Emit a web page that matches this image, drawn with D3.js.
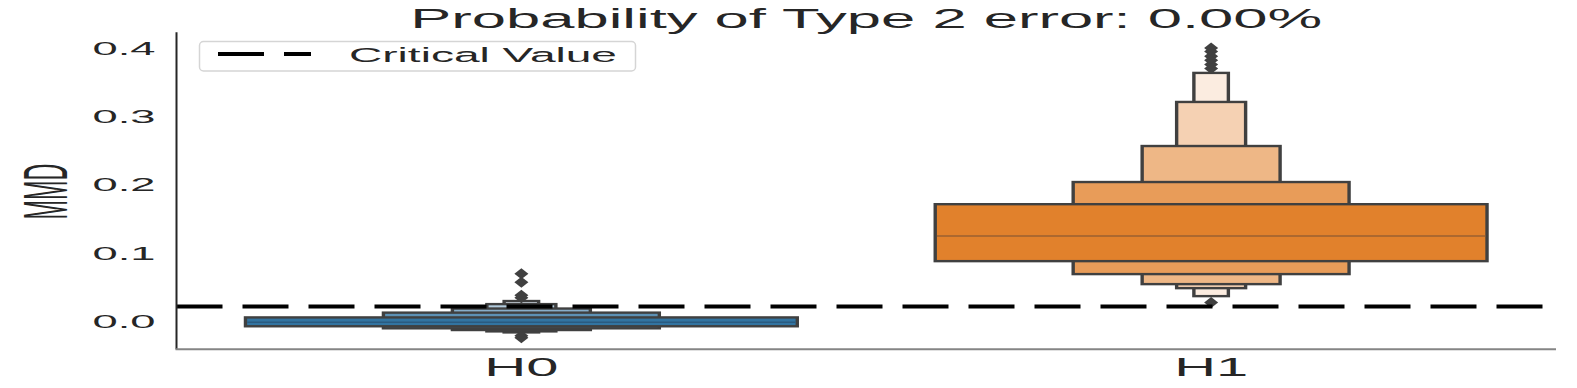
<!DOCTYPE html>
<html>
<head>
<meta charset="utf-8">
<script src="https://cdn.jsdelivr.net/npm/d3@7"></script>
<style>
  html, body { margin: 0; padding: 0; background: #ffffff; }
  svg { display: block; }
  text { font-family: "Liberation Sans", Arial, sans-serif; fill: #262626; }
</style>
</head>
<body>
<svg id="chart" width="1577" height="388"></svg>
<script>
// ---------------- data ----------------
const categories = ["H0", "H1"];
const yTickValues = [0, 0.1, 0.2, 0.3, 0.4];
const titleText = "Probability of Type 2 error: 0.00%";
const yLabel = "MMD";
const legendLabel = "Critical Value";
const criticalValue = 0.022;

// letter values: level 1 = quartiles, then octiles, ... (lower / upper bounds)
const h0Lower = [-0.007, -0.010, -0.0125, -0.0145, -0.016];
const h0Upper = [0.006, 0.013, 0.019, 0.0255, 0.030];
const h0Median = -0.001;
const h0Outliers = [0.070, 0.0574, 0.0384, 0.035, -0.021, -0.024];

const h1Lower = [0.0885, 0.0695, 0.0548, 0.0489, 0.0372];
const h1Upper = [0.172, 0.2045, 0.2573, 0.3219, 0.3645];
const h1Median = 0.1253;
const h1Outliers = [0.401, 0.396, 0.389, 0.383, 0.377, 0.371, 0.0277];

const groups = [
  { name: "H0", lower: h0Lower, upper: h0Upper, median: h0Median, outliers: h0Outliers,
    color: "#3274a1", light: "#dde8f1", medianColor: "#2a5b80" },
  { name: "H1", lower: h1Lower, upper: h1Upper, median: h1Median, outliers: h1Outliers,
    color: "#e1812c", light: "#fbece0", medianColor: "#9a6030" }
];

// ---------------- layout ----------------
const svg = d3.select("#chart");
const plotLeft = 176.5, plotRight = 1556, plotTop = 32.3, plotBottom = 349.3;

const x = d3.scaleBand().domain(categories).range([plotLeft, plotRight]).padding(0);
const y = d3.scaleLinear()
  .domain([(321.5 - plotBottom) / 682, (321.5 - plotTop) / 682])
  .range([plotBottom, plotTop]);

const edge = "#404040";

// ---------------- boxen ----------------
const boxG = svg.append("g");
groups.forEach(g => {
  const cx = x(g.name) + x.bandwidth() / 2;
  const n = g.lower.length;
  const interp = d3.interpolateRgb(g.color, g.light);
  for (let i = n - 1; i >= 0; i--) {
    const w = x.bandwidth() * 0.8 / Math.pow(2, i);
    const x0 = cx - w / 2;
    const yt = y(g.upper[i]), yb = y(g.lower[i]);
    const hx = 1.7, hy = 1.2;
    boxG.append("rect")
      .attr("x", x0 - hx).attr("y", yt - hy)
      .attr("width", w + 2 * hx).attr("height", yb - yt + 2 * hy)
      .attr("fill", edge);
    boxG.append("rect")
      .attr("x", x0 + hx).attr("y", yt + hy)
      .attr("width", Math.max(0, w - 2 * hx)).attr("height", Math.max(0, yb - yt - 2 * hy))
      .attr("fill", interp(i / (n - 1)));
  }
  const w0 = x.bandwidth() * 0.8;
  boxG.append("line")
    .attr("x1", cx - w0 / 2 + 1.7).attr("x2", cx + w0 / 2 - 1.7)
    .attr("y1", y(g.median)).attr("y2", y(g.median))
    .attr("stroke", g.medianColor).attr("stroke-width", 1.6);
  boxG.selectAll(null).data(g.outliers).enter().append("path")
    .attr("d", d => {
      const py = y(d), hw = 7, hh = 5.5;
      return `M${cx},${py - hh}L${cx + hw},${py}L${cx},${py + hh}L${cx - hw},${py}Z`;
    })
    .attr("fill", edge);
});

// ---------------- critical value ----------------
svg.append("line")
  .attr("x1", plotLeft).attr("x2", plotRight)
  .attr("y1", y(criticalValue)).attr("y2", y(criticalValue))
  .attr("stroke", "#000").attr("stroke-width", 4)
  .attr("stroke-dasharray", "46,20");

// ---------------- axes ----------------
const yAxis = svg.append("g")
  .attr("transform", `translate(${plotLeft},0)`)
  .call(d3.axisLeft(y).tickValues(yTickValues).tickFormat(d3.format(".1f")).tickSize(0).tickPadding(21));
yAxis.select(".domain").remove();
yAxis.selectAll("text")
  .attr("font-size", 18)
  .attr("font-family", "Liberation Sans, Arial, sans-serif")
  .attr("fill", "#262626")
  .attr("textLength", 63).attr("lengthAdjust", "spacingAndGlyphs");

svg.append("line")
  .attr("x1", plotLeft).attr("x2", plotLeft).attr("y1", plotTop).attr("y2", plotBottom)
  .attr("stroke", "#262626").attr("stroke-width", 2);
svg.append("line")
  .attr("x1", plotLeft - 1).attr("x2", plotRight).attr("y1", plotBottom).attr("y2", plotBottom)
  .attr("stroke", "#858585").attr("stroke-width", 2);

const xAxis = svg.append("g")
  .attr("transform", `translate(0,${plotBottom})`)
  .call(d3.axisBottom(x).tickSize(0).tickPadding(8));
xAxis.select(".domain").remove();
xAxis.selectAll("text")
  .attr("font-size", 25)
  .attr("font-family", "Liberation Sans, Arial, sans-serif")
  .attr("fill", "#262626")
  .attr("dy", "0")
  .attr("y", 27)
  .attr("textLength", 74).attr("lengthAdjust", "spacingAndGlyphs");

svg.append("text")
  .attr("transform", "translate(44.5,191.5) scale(2.6,1) rotate(-90)")
  .attr("text-anchor", "middle")
  .attr("dy", "0.36em")
  .attr("font-size", 24)
  .attr("textLength", 56).attr("lengthAdjust", "spacingAndGlyphs")
  .text(yLabel);

svg.append("text")
  .attr("x", (plotLeft + plotRight) / 2).attr("y", 27.6)
  .attr("text-anchor", "middle")
  .attr("font-size", 27)
  .attr("textLength", 912).attr("lengthAdjust", "spacingAndGlyphs")
  .text(titleText);

// ---------------- legend ----------------
const lg = svg.append("g");
lg.append("rect")
  .attr("x", 199.5).attr("y", 41.5).attr("width", 436).attr("height", 29.5)
  .attr("rx", 4).attr("ry", 4)
  .attr("fill", "rgba(255,255,255,0.8)")
  .attr("stroke", "#d5d5d5").attr("stroke-width", 1.5);
lg.append("line")
  .attr("x1", 218).attr("x2", 311).attr("y1", 54).attr("y2", 54)
  .attr("stroke", "#000").attr("stroke-width", 4)
  .attr("stroke-dasharray", "46,20");
lg.append("text")
  .attr("x", 349).attr("y", 61.5)
  .attr("font-size", 20.5)
  .attr("textLength", 268).attr("lengthAdjust", "spacingAndGlyphs")
  .text(legendLabel);
</script>
</body>
</html>
